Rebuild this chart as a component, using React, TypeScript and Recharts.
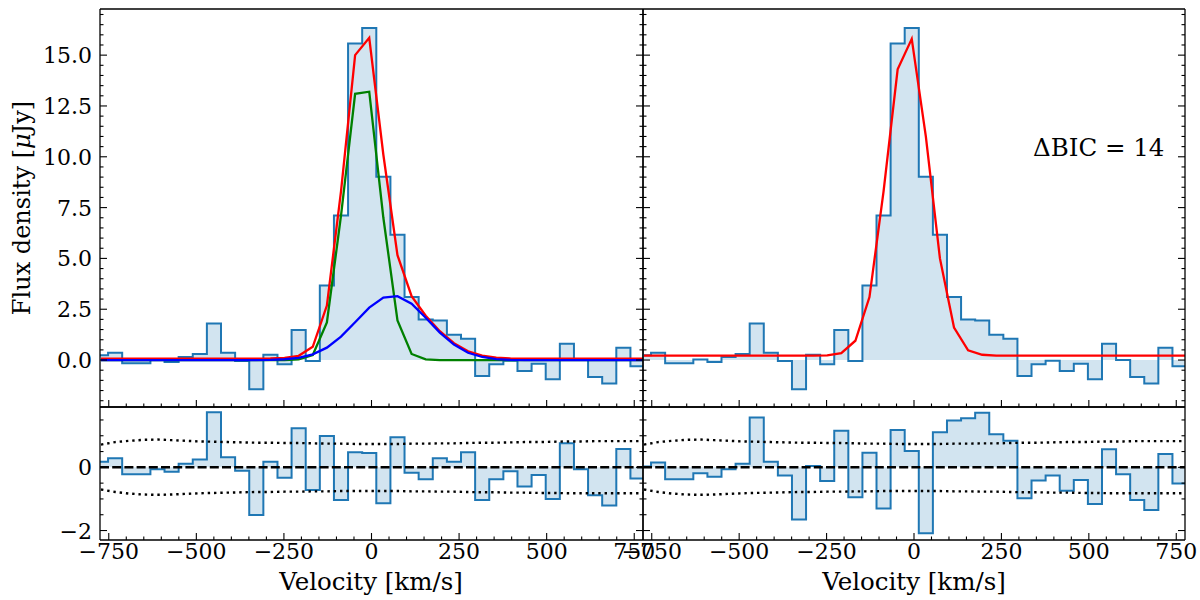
import React from "react";
import { ComposedChart, Area, Line, XAxis, YAxis, ReferenceLine } from "recharts";

// channel centres in km/s (one extra channel beyond each edge of the window)
const velocity = [
  -772.15, -731.85, -691.55, -651.25, -610.95, -570.65, -530.35, -490.05, -449.75, -409.45,
  -369.15, -328.85, -288.55, -248.25, -207.95, -167.65, -127.35, -87.05, -46.75, -6.45,
  33.85, 74.15, 114.45, 154.75, 195.05, 235.35, 275.65, 315.95, 356.25, 396.55,
  436.85, 477.15, 517.45, 557.75, 598.05, 638.35, 678.65, 718.95, 759.25, 799.55,
];
const channelWidth = 40.3;

// observed spectrum, µJy (channels 0..38)
const flux = [
  0.23, 0.36, -0.16, -0.16, 0.03, -0.1, 0.15, 0.3, 1.8, 0.36,
  -0.05, -1.44, 0.26, -0.21, 1.48, -0.05, 3.67, 7.11, 15.57, 16.34,
  9.02, 6.16, 3.1, 2.0, 1.95, 1.25, 1.05, -0.79, -0.21, -0.03,
  -0.54, -0.18, -0.95, 0.8, 0.0, -0.84, -1.16, 0.61, -0.3,
];

// two-component fit (left)
const fitTotal = [
  0.07, 0.07, 0.07, 0.07, 0.07, 0.07, 0.07, 0.07, 0.07, 0.07,
  0.07, 0.07, 0.08, 0.11, 0.21, 0.65, 2.68, 8.3, 15.0, 15.85,
  10.1, 5.16, 3.14, 2.18, 1.42, 0.83, 0.43, 0.22, 0.12, 0.08,
  0.07, 0.07, 0.07, 0.07, 0.07, 0.07, 0.07, 0.07, 0.07, 0.07,
];
const fitNarrow = [
  0, 0, 0, 0, 0, 0, 0, 0, 0, 0,
  0, 0, 0, 0, 0.03, 0.25, 1.85, 7.1, 13.1, 13.2,
  7.0, 1.95, 0.3, 0.03, 0, 0, 0, 0, 0, 0,
  0, 0, 0, 0, 0, 0, 0, 0, 0, 0,
];
const fitBroad = [
  0, 0, 0, 0, 0, 0, 0, 0, 0, 0,
  0, 0, 0.01, 0.04, 0.11, 0.28, 0.61, 1.15, 1.86, 2.58,
  3.07, 3.14, 2.77, 2.08, 1.35, 0.76, 0.36, 0.15, 0.05, 0.01,
  0, 0, 0, 0, 0, 0, 0, 0, 0, 0,
];

// single-component fit (right)
const fitSingle = [
  0.22, 0.22, 0.22, 0.22, 0.22, 0.22, 0.22, 0.22, 0.22, 0.22,
  0.22, 0.22, 0.22, 0.23, 0.34, 0.95, 3.1, 8.3, 14.3, 15.8,
  11.0, 5.0, 1.6, 0.48, 0.26, 0.22, 0.22, 0.22, 0.22, 0.22,
  0.22, 0.22, 0.22, 0.22, 0.22, 0.22, 0.22, 0.22, 0.22, 0.22,
];

// residuals (channels 0..38)
const residTwo = [
  0.18, 0.29, -0.22, -0.22, -0.06, -0.14, 0.11, 0.25, 1.74, 0.32,
  -0.11, -1.51, 0.18, -0.33, 1.24, -0.72, 0.99, -1.03, 0.48, 0.45,
  -1.14, 0.95, -0.17, -0.38, 0.29, 0.18, 0.48, -1.03, -0.38, -0.12,
  -0.61, -0.24, -1.0, 0.76, -0.06, -0.88, -1.21, 0.58, -0.35,
];
const residOne = [
  0.03, 0.15, -0.38, -0.38, -0.19, -0.3, -0.06, 0.11, 1.58, 0.18,
  -0.26, -1.65, 0.04, -0.43, 1.16, -0.95, 0.46, -1.3, 1.18, 0.52,
  -2.09, 1.11, 1.48, 1.55, 1.73, 1.05, 0.84, -0.98, -0.42, -0.26,
  -0.74, -0.4, -1.16, 0.57, -0.22, -1.03, -1.35, 0.42, -0.51,
];

// +/- 1 sigma noise
const noiseUp = [
  0.72, 0.8, 0.84, 0.87, 0.88, 0.86, 0.84, 0.82, 0.81, 0.8,
  0.79, 0.78, 0.78, 0.77, 0.77, 0.76, 0.75, 0.75, 0.74, 0.74,
  0.74, 0.74, 0.75, 0.75, 0.76, 0.76, 0.77, 0.78, 0.78, 0.79,
  0.8, 0.8, 0.81, 0.82, 0.82, 0.83, 0.83, 0.83, 0.83, 0.83,
];
const noiseDown = [
  -0.7, -0.78, -0.83, -0.86, -0.87, -0.86, -0.84, -0.82, -0.81, -0.8,
  -0.79, -0.78, -0.78, -0.77, -0.77, -0.76, -0.76, -0.75, -0.75, -0.75,
  -0.75, -0.75, -0.76, -0.76, -0.77, -0.77, -0.78, -0.79, -0.79, -0.8,
  -0.8, -0.81, -0.81, -0.82, -0.82, -0.82, -0.82, -0.82, -0.82, -0.82,
];

const xTicks = [-750, -500, -250, 0, 250, 500, 750];
const xAllTicks = [
  -750, -700, -650, -600, -550, -500, -450, -400, -350, -300, -250, -200, -150, -100, -50,
  0, 50, 100, 150, 200, 250, 300, 350, 400, 450, 500, 550, 600, 650, 700, 750,
];
const fluxTicks = [0, 2.5, 5, 7.5, 10, 12.5, 15];
const fluxAllTicks = [
  -2, -1.5, -1, -0.5, 0, 0.5, 1, 1.5, 2, 2.5, 3, 3.5, 4, 4.5, 5, 5.5, 6, 6.5, 7, 7.5, 8, 8.5,
  9, 9.5, 10, 10.5, 11, 11.5, 12, 12.5, 13, 13.5, 14, 14.5, 15, 15.5, 16, 16.5, 17,
];
const residTicks = [-2, 0];
const residAllTicks = [-2, -1.5, -1, -0.5, 0, 0.5, 1, 1.5];

const W = 1200;
const H = 600;
const FONT = "DejaVu Serif";
const BLUE = "#1f77b4";
const xDomain: [number, number] = [-775, 775];
const MAJOR = 7;
const MINOR = 3.5;

const fmtMinus = (v: number, digits = 0) =>
  (v < 0 ? "\u2212" : "") + Math.abs(v).toFixed(digits);

const steps = (vals: number[]) => {
  const pts = vals.map((y, i) => ({ v: velocity[i] - channelWidth / 2, y }));
  pts.push({ v: velocity[vals.length - 1] + channelWidth / 2, y: vals[vals.length - 1] });
  return pts;
};
const curve = (vals: number[]) => vals.map((y, i) => ({ v: velocity[i], y }));

const frame = { stroke: "#000", strokeWidth: 1.3 };

// x ticks drawn inward from the frame edge at edgeY; dir = -1 upward, +1 downward
const xTick = (edgeY: number, dir: number, labels: boolean) => (p: any) => {
  const v = p.payload.value;
  const major = xTicks.includes(v);
  return (
    <g>
      <line x1={p.x} x2={p.x} y1={edgeY} y2={edgeY + dir * (major ? MAJOR : MINOR)}
        stroke="#000" strokeWidth={1.1} />
      {labels && major && (
        <text x={p.x} y={559} textAnchor="middle" fontSize={22} fontFamily={FONT} fill="#000">
          {fmtMinus(v)}
        </text>
      )}
    </g>
  );
};

const yTick = (edgeX: number, dir: number, majors: number[], fmt: any) => (p: any) => {
  const v = p.payload.value;
  const major = majors.includes(v);
  return (
    <g>
      <line x1={edgeX} x2={edgeX + dir * (major ? MAJOR : MINOR)} y1={p.y} y2={p.y}
        stroke="#000" strokeWidth={1.1} />
      {fmt && major && (
        <text x={92} y={p.y + 8} textAnchor="end" fontSize={22} fontFamily={FONT} fill="#000">
          {fmt(v)}
        </text>
      )}
    </g>
  );
};

function Panel({ box, yDomain, yTicks, yAll, yFormat, showX, children }: any) {
  const right = box.left + box.width;
  const bottom = box.top + box.height;
  const margin = { left: box.left - 1, top: box.top - 1, right: W - right - 1, bottom: H - bottom - 1 };
  return (
    <div style={{ position: "absolute", left: 0, top: 0 }}>
      <ComposedChart width={W} height={H} margin={margin}>
        <XAxis xAxisId="b" type="number" dataKey="v" domain={xDomain} allowDataOverflow
          ticks={xAllTicks} interval={0} height={1} axisLine={frame} tickLine={false}
          tick={xTick(bottom, -1, showX)} />
        <XAxis xAxisId="t" orientation="top" type="number" domain={xDomain} allowDataOverflow
          ticks={xAllTicks} interval={0} height={1} axisLine={frame} tickLine={false}
          tick={xTick(box.top, 1, false)} />
        <YAxis yAxisId="l" type="number" domain={yDomain} allowDataOverflow
          ticks={yAll} interval={0} width={1} axisLine={frame} tickLine={false}
          tick={yTick(box.left, 1, yTicks, yFormat)} />
        <YAxis yAxisId="r" orientation="right" type="number" domain={yDomain} allowDataOverflow
          ticks={yAll} interval={0} width={1} axisLine={frame} tickLine={false}
          tick={yTick(right, -1, yTicks, null)} />
        {children}
      </ComposedChart>
    </div>
  );
}

const histogram = (vals: number[]) => (
  <Area xAxisId="b" yAxisId="l" data={steps(vals)} dataKey="y" type="stepAfter"
    baseValue={0} stroke={BLUE} strokeWidth={2} fill={BLUE} fillOpacity={0.2}
    dot={false} activeDot={false} isAnimationActive={false} />
);
const model = (vals: number[], color: string) => (
  <Line xAxisId="b" yAxisId="l" data={curve(vals)} dataKey="y" type="linear"
    stroke={color} strokeWidth={2.3} dot={false} activeDot={false} isAnimationActive={false} />
);
const noise = (vals: number[]) => (
  <Line xAxisId="b" yAxisId="l" data={curve(vals)} dataKey="y" type="linear"
    stroke="#000" strokeWidth={2.4} strokeDasharray="2.4 3.9"
    dot={false} activeDot={false} isAnimationActive={false} />
);
const zeroLine = (
  <ReferenceLine xAxisId="b" yAxisId="l" y={0} stroke="#000" strokeWidth={2.5}
    strokeDasharray="9 3.2" />
);

const topDomain: [number, number] = [-2.31, 17.27];
const botDomain: [number, number] = [-2.3, 1.91];
const leftBox = { left: 100, width: 543 };
const rightBox = { left: 643, width: 542 };
const topRow = { top: 9, height: 398 };
const botRow = { top: 407, height: 133 };

export default function App() {
  return (
    <div style={{ position: "absolute", left: 0, top: 0, width: W, height: H, background: "#fff" }}>
      <Panel box={{ ...leftBox, ...topRow }} yDomain={topDomain} yTicks={fluxTicks}
        yAll={fluxAllTicks} yFormat={(v: number) => fmtMinus(v, 1)} showX={false}>
        {histogram(flux)}
        {model(fitTotal, "#ff0000")}
        {model(fitNarrow, "#008000")}
        {model(fitBroad, "#0000ff")}
      </Panel>
      <Panel box={{ ...rightBox, ...topRow }} yDomain={topDomain} yTicks={fluxTicks}
        yAll={fluxAllTicks} yFormat={null} showX={false}>
        {histogram(flux)}
        {model(fitSingle, "#ff0000")}
      </Panel>
      <Panel box={{ ...leftBox, ...botRow }} yDomain={botDomain} yTicks={residTicks}
        yAll={residAllTicks} yFormat={(v: number) => fmtMinus(v)} showX>
        {histogram(residTwo)}
        {noise(noiseUp)}
        {noise(noiseDown)}
        {zeroLine}
      </Panel>
      <Panel box={{ ...rightBox, ...botRow }} yDomain={botDomain} yTicks={residTicks}
        yAll={residAllTicks} yFormat={null} showX>
        {histogram(residOne)}
        {noise(noiseUp)}
        {noise(noiseDown)}
        {zeroLine}
      </Panel>
      <svg width={W} height={H} style={{ position: "absolute", left: 0, top: 0, pointerEvents: "none" }}
        fontFamily={FONT} fill="#000">
        <text transform="translate(30,208) rotate(-90)" textAnchor="middle" fontSize={24}>
          Flux density [<tspan fontStyle="italic">μ</tspan>Jy]
        </text>
        <text x={371} y={590} textAnchor="middle" fontSize={24.5}>Velocity [km/s]</text>
        <text x={914} y={590} textAnchor="middle" fontSize={24.5}>Velocity [km/s]</text>
        <text x={1033} y={156} fontSize={24.5}>ΔBIC = 14</text>
      </svg>
    </div>
  );
}
